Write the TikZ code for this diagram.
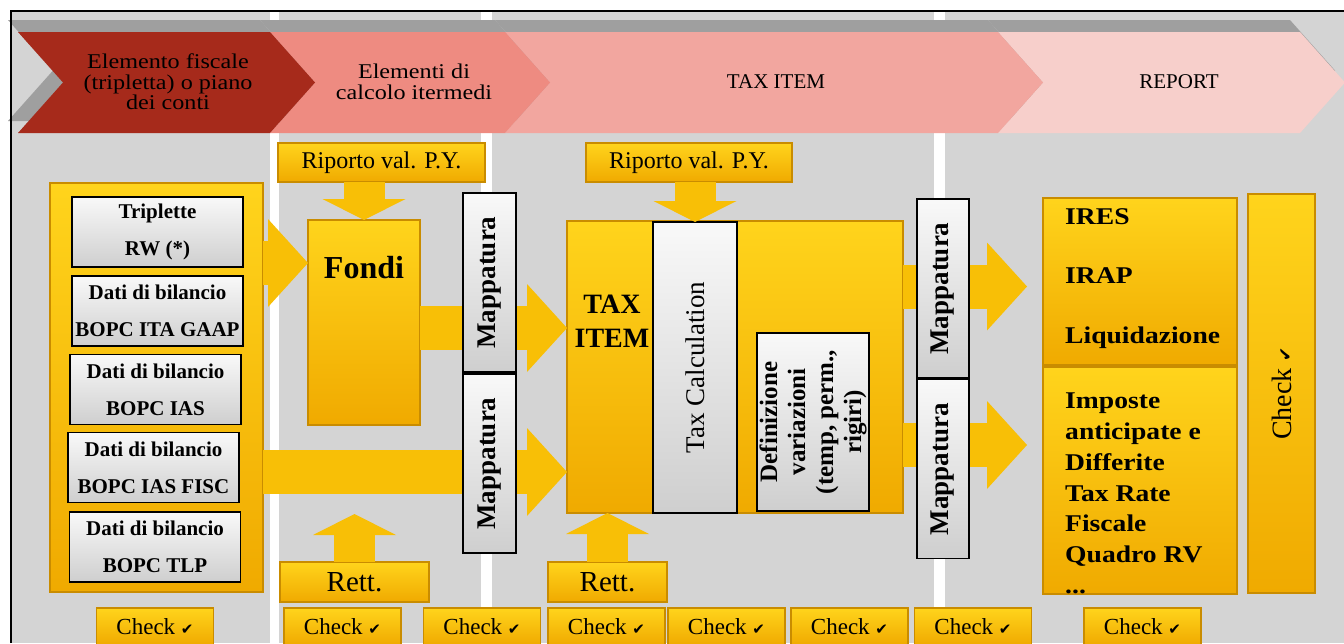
\documentclass[tikz,border=0pt]{standalone}
\usepackage{fontspec}
\setmainfont{Liberation Serif}
\newfontfamily\widefont{Liberation Serif}[FakeStretch=1.15]
\newfontfamily\dejavu{DejaVu Sans}
\usetikzlibrary{arrows.meta}
\definecolor{greyback}{HTML}{D4D4D4}
\definecolor{chevA}{HTML}{A62A1B}
\definecolor{chevB}{HTML}{EE8B81}
\definecolor{chevC}{HTML}{F2A69F}
\definecolor{chevD}{HTML}{F7CFCB}
\definecolor{ytop}{HTML}{FFD41C}
\definecolor{ybot}{HTML}{F0AA00}
\definecolor{yedge}{HTML}{C98C00}
\definecolor{yarrow}{HTML}{F8BF06}
\newcommand\ckmark[1]{{\dejavu\fontsize{#1}{#1}\selectfont ✔}}

\begin{document}
\begin{tikzpicture}[x=1pt,y=-1pt,
  ybox/.style={draw=yedge,line width=1.5pt,top color=ytop,bottom color=ybot,inner sep=0pt,outer sep=0pt},
  gbox/.style={draw=black,line width=1.5pt,top color=gray!5,bottom color=gray!38,inner sep=0pt,outer sep=0pt},
  fat/.style={draw=yarrow,line width=44pt,-{Triangle[length=40pt,width=88pt,line width=0pt]}},
  fatv/.style={draw=yarrow,line width=41pt,-{Triangle[length=21pt,width=83pt,line width=0pt]}},
  chk/.style={ybox,minimum width=117pt,minimum height=37pt,font=\fontsize{23}{23}\selectfont},
  dati/.style={gbox,minimum width=171pt,minimum height=70pt,align=center,font=\bfseries\fontsize{21}{37}\selectfont},
  mapbox/.style={gbox,minimum width=53pt,minimum height=179pt,label={[rotate=90,font=\bfseries\fontsize{27}{27}\selectfont]center:Mappatura}}]
\useasboundingbox (0,0) rectangle (1344,643);
\fill[white] (0,0) rectangle (1344,643);
\fill[greyback] (12,12) rectangle (1344,643);
\foreach \xa/\xb in {270/279,481/492,934/945}
  \fill[white] (\xa,12) rectangle (\xb,643);
\foreach \xa/\xb in {18/270,270/505,505/998,998/1300}
  \fill[gray!75] (\xa-10,20) -- (\xb-10,20) -- (\xb+35,70.5) -- (\xb-10,121) -- (\xa-10,121) -- (\xa+35,70.5) -- cycle;
\foreach \xa/\xb/\col in {998/1300/chevD,505/998/chevC,270/505/chevB,18/270/chevA}
  \fill[\col] (\xa,32) -- (\xb,32) -- (\xb+45,82.5) -- (\xb,133) -- (\xa,133) -- (\xa+45,82.5) -- cycle;
\node[font=\widefont\fontsize{21}{20.5}\selectfont,align=center] (head1) at (168,82) {Elemento fiscale\\(tripletta) o piano\\dei conti};
\node[font=\widefont\fontsize{21}{21}\selectfont,align=center] (head2) at (414,82) {Elementi di\\calcolo itermedi};
\node[font=\fontsize{21}{21}\selectfont] (head3) at (776,82) {TAX ITEM};
\node[font=\fontsize{21}{21}\selectfont] (head4) at (1179,82) {REPORT};

\node[ybox,minimum width=213pt,minimum height=409pt] (bilancio) at (156.5,387.5) {};
\node[dati] (trip) at (157.5,232) {Triplette\\RW (*)};
\node[dati] (itagaap) at (157.5,311) {Dati di bilancio\\BOPC ITA GAAP};
\node[dati] (ias) at (155.5,389.5) {Dati di bilancio\\BOPC IAS};
\node[dati] (iasfisc) at (153.5,467.5) {Dati di bilancio\\BOPC IAS FISC};
\node[dati] (tlp) at (155,547) {Dati di bilancio\\BOPC TLP};

\node[ybox,minimum width=207pt,minimum height=39pt,font=\fontsize{24}{24}\selectfont] (riporto1) at (381.5,162.5) {Riporto val. P.Y.};
\node[ybox,minimum width=206pt,minimum height=39pt,font=\fontsize{24}{24}\selectfont] (riporto2) at (689,162.5) {Riporto val. P.Y.};
\node[ybox,minimum width=112pt,minimum height=205pt,label={[font=\bfseries\fontsize{32}{32}\selectfont,anchor=base,yshift=-58pt]north:Fondi}] (fondi) at (364,322.5) {};
\node[ybox,minimum width=336pt,minimum height=292pt,label={[font=\bfseries\fontsize{28}{34}\selectfont,align=center,xshift=-123pt,yshift=46pt]center:{TAX\\ITEM}}] (taxitem) at (735,367) {};
\node[gbox,minimum width=84pt,minimum height=291pt,label={[rotate=90,font=\fontsize{27}{27}\selectfont]center:Tax Calculation}] (taxcalc) at (695,367.5) {};
\node[gbox,minimum width=112pt,minimum height=178pt,label={[rotate=90,align=center,font=\bfseries\fontsize{25}{28}\selectfont]center:{Definizione\\variazioni\\(temp, perm.,\\rigiri)}}] (variaz) at (813,422) {};
\node[ybox,minimum width=194pt,minimum height=167pt,label={[anchor=west,inner sep=0pt,align=left,xshift=22pt,yshift=3pt,font=\widefont\bfseries\fontsize{24}{59.5}\selectfont]west:{IRES\\IRAP\\Liquidazione}}] (imposte) at (1140,281.5) {};
\node[ybox,minimum width=194pt,minimum height=227pt,label={[anchor=west,inner sep=0pt,align=left,xshift=22pt,yshift=-13pt,font=\widefont\bfseries\fontsize{24}{30.8}\selectfont]west:{Imposte\\anticipate e\\Differite\\Tax Rate\\Fiscale\\Quadro RV\\...}}] (differite) at (1140,480.5) {};
\node[ybox,minimum width=67pt,minimum height=399pt,label={[rotate=90,font=\fontsize{28}{28}\selectfont]center:Check \ckmark{17}}] (checkbar) at (1281.5,393.5) {};
\node[ybox,minimum width=149pt,minimum height=40pt,font=\fontsize{29}{29}\selectfont] (rett1) at (354.5,582) {Rett.};
\node[ybox,minimum width=119pt,minimum height=40pt,font=\fontsize{29}{29}\selectfont] (rett2) at (607.5,582) {Rett.};
\foreach \cx [count=\i] in {155,342.5,482,606.5,726.5,849.5,973,1142.5}
  \node[chk] (check\i) at (\cx,626.5) {Check \ckmark{15}};

\coordinate (fonditip) at ([yshift=-43pt]fondi.north west);
\coordinate (taxtipA) at ([yshift=-107pt]taxitem.north west);
\coordinate (taxtipB) at ([yshift=41pt]taxitem.south west);
\coordinate (reptipA) at ([xshift=-16pt,yshift=-5pt]imposte.west);
\coordinate (reptipB) at ([xshift=-16pt,yshift=-78pt]differite.north west);
\coordinate (rettup) at ([yshift=48pt]rett1.north);
\draw[fat] (bilancio.east |- fonditip) -- (fonditip);
\draw[fat] (fondi.east |- taxtipA) -- (taxtipA);
\draw[fat] (bilancio.east |- taxtipB) -- (taxtipB);
\draw[fat] (taxitem.east |- reptipA) -- (reptipA);
\draw[fat] (taxitem.east |- reptipB) -- (reptipB);
\draw[fatv] (riporto1.south -| fondi.north) -- (fondi.north);
\draw[fatv] (riporto2.south -| taxcalc.north) -- (taxcalc.north);
\draw[fatv] (rett1.north) -- (rettup);
\draw[fatv] (rett2.north) -- (rett2.north |- taxitem.south);

\node[mapbox] (map1) at (489.5,282.5) {};
\node[mapbox] (map2) at (489.5,463.5) {};
\node[mapbox,minimum width=52pt] (map3) at (943,288.5) {};
\node[mapbox,minimum width=52pt] (map4) at (943,469) {};
\draw[line width=2pt] (11,643) -- (11,11) -- (1344,11);
\end{tikzpicture}
\end{document}
